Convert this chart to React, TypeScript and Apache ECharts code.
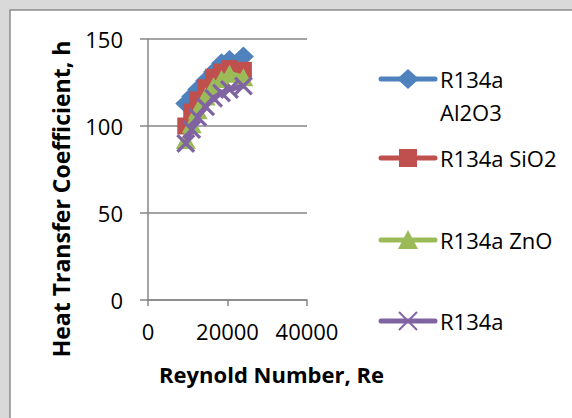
import React, { useEffect, useRef } from "react";
import * as echarts from "echarts";

const reynolds = [9500, 11000, 12500, 14500, 16500, 18500, 20500, 24000];
const al2o3 = [113, 117, 121, 126, 131, 136, 138, 140];
const sio2 = [100, 108, 115, 122, 128, 131, 133, 132];
const zno = [92, 101, 109, 117, 123, 127, 130, 128];
const pure = [90, 98, 105, 111, 116, 119, 121, 123];

const seriesNames = ["R134a Al2O3", "R134a SiO2", "R134a ZnO", "R134a"];
const legendLabels = ["R134a\nAl2O3", "R134a SiO2", "R134a ZnO", "R134a"];
const seriesColors = ["#4F81BD", "#C0504D", "#9BBB59", "#8064A2"];
const seriesSymbols = [
  "diamond",
  "rect",
  "triangle",
  "path://M0,1.2L1.2,0L10,8.8L8.8,10ZM8.8,0L10,1.2L1.2,10L0,8.8Z",
];
const seriesSizes = [[21, 20], [17, 17], [20, 18], [19, 19]];
const seriesData = [al2o3, sio2, zno, pure];
const legendCenters = [79, 158, 240, 321];

const FONT = "'Open Sans', sans-serif";

function legendGraphics() {
  const out: any[] = [];
  const x1 = 381;
  const x2 = 435;
  const cx = 408;
  legendCenters.forEach((cy, i) => {
    const color = seriesColors[i];
    out.push({
      type: "line",
      shape: { x1, y1: cy, x2, y2: cy },
      style: { stroke: color, lineWidth: 5, lineCap: "round" },
      silent: true,
    });
    if (i === 0) {
      out.push({
        type: "polygon",
        shape: { points: [[cx, cy - 10], [cx + 11, cy], [cx, cy + 10], [cx - 11, cy]] },
        style: { fill: color },
        silent: true,
      });
    } else if (i === 1) {
      out.push({
        type: "rect",
        shape: { x: cx - 9, y: cy - 9, width: 18, height: 18 },
        style: { fill: color },
        silent: true,
      });
    } else if (i === 2) {
      out.push({
        type: "polygon",
        shape: { points: [[cx, cy - 10], [cx + 10, cy + 9], [cx - 10, cy + 9]] },
        style: { fill: color },
        silent: true,
      });
    } else {
      out.push({
        type: "line",
        shape: { x1: cx - 9, y1: cy - 9, x2: cx + 9, y2: cy + 9 },
        style: { stroke: color, lineWidth: 2 },
        silent: true,
      });
      out.push({
        type: "line",
        shape: { x1: cx + 9, y1: cy - 9, x2: cx - 9, y2: cy + 9 },
        style: { stroke: color, lineWidth: 2 },
        silent: true,
      });
    }
    out.push({
      type: "text",
      x: 440,
      y: i === 0 ? cy - 16.5 : cy,
      style: {
        text: legendLabels[i],
        fontFamily: FONT,
        fontSize: 22,
        fill: "#000",
        lineHeight: 33,
        align: "left",
        verticalAlign: i === 0 ? "top" : "middle",
      },
      silent: true,
    });
  });
  return out;
}

export default function App() {
  const ref = useRef<HTMLDivElement>(null);
  useEffect(() => {
    if (!ref.current) return;
    const chart = echarts.init(ref.current, undefined, { renderer: "svg" });
    const series = seriesNames.map((name, i) => ({
      name,
      type: "line",
      data: reynolds.map((x, j) => [x, seriesData[i][j]]),
      symbol: seriesSymbols[i],
      symbolSize: seriesSizes[i],
      showAllSymbol: true,
      itemStyle: { color: seriesColors[i], borderWidth: 0 },
      lineStyle: { color: seriesColors[i], width: 5 },
      smooth: 0.2,
      z: 2 + i,
    }));
    chart.setOption({
      animation: false,
      backgroundColor: "#d9d9d9",
      graphic: [
        {
          type: "rect",
          shape: { x: 10, y: 10, width: 600, height: 450 },
          style: { fill: "#ffffff", stroke: "#8c8c8c", lineWidth: 1.5 },
          z: -10,
          silent: true,
        },
        ...legendGraphics(),
      ],
      grid: { left: 148, top: 39, width: 159, height: 261, containLabel: false },
      xAxis: {
        type: "value",
        min: 0,
        max: 40000,
        interval: 20000,
        name: "Reynold Number, Re",
        nameLocation: "middle",
        nameGap: 63,
        nameTextStyle: {
          fontFamily: FONT,
          fontSize: 22,
          fontWeight: "bold",
          color: "#000",
          padding: [0, 0, 0, 88],
        },
        axisLine: { show: true, lineStyle: { color: "#868686", width: 1.5 } },
        axisTick: { show: true, length: 6, lineStyle: { color: "#868686", width: 1.5 } },
        axisLabel: {
          fontFamily: FONT,
          fontSize: 22,
          color: "#000",
          margin: 20,
          formatter: (v: number) => String(v),
        },
        splitLine: { show: false },
      },
      yAxis: {
        type: "value",
        min: 0,
        max: 150,
        interval: 50,
        name: "Heat Transfer Coefficient, h",
        nameLocation: "middle",
        nameGap: 76,
        nameTextStyle: {
          fontFamily: FONT,
          fontSize: 23,
          fontWeight: "bold",
          color: "#000",
          padding: [0, 59, 0, 0],
        },
        axisLine: { show: true, lineStyle: { color: "#868686", width: 1.5 } },
        axisTick: { show: true, length: 8, lineStyle: { color: "#868686", width: 1.5 } },
        axisLabel: { fontFamily: FONT, fontSize: 22, color: "#000", margin: 25 },
        splitLine: { show: true, lineStyle: { color: "#868686", width: 1.5 } },
      },
      series,
    });
    return () => chart.dispose();
  }, []);
  return (
    <div
      ref={ref}
      style={{ position: "fixed", left: 0, top: 0, width: 572, height: 418 }}
    />
  );
}
